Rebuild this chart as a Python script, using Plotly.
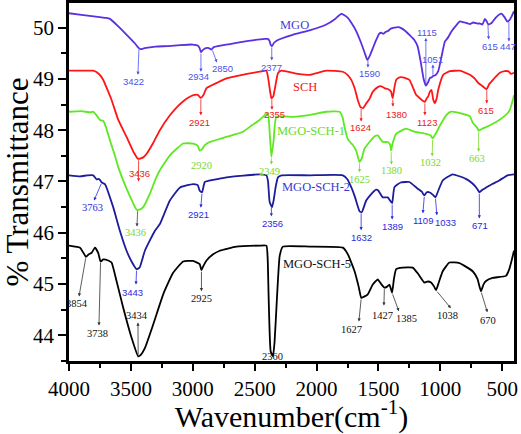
import numpy as np
import plotly.graph_objects as go

# ---------------- data ----------------
wn_mgo = [4000, 3900, 3800, 3700, 3669, 3600, 3534, 3470, 3440, 3422, 3390, 3300, 3200, 3100, 3000,
          2960, 2945, 2934, 2920, 2895, 2870, 2850, 2830, 2700, 2550, 2420, 2395, 2380, 2370, 2360,
          2345, 2320, 2193, 2050, 1922, 1850, 1801, 1775, 1747, 1700, 1680, 1640, 1610, 1590, 1570,
          1545, 1520, 1495, 1478, 1460, 1440, 1425, 1400, 1371, 1340, 1317, 1280, 1250, 1210, 1183,
          1160, 1135, 1117, 1100, 1084, 1070, 1057, 1040, 1017, 990, 963, 940, 909, 870, 842, 810,
          788, 760, 735, 700, 680, 660, 640, 625, 613, 600, 586, 550, 520, 505, 480, 460, 440, 424, 405]
t_mgo = [50.28, 50.25, 50.22, 50.19, 50.17, 50.02, 49.86, 49.70, 49.61, 49.58, 49.60, 49.63, 49.64, 49.66, 49.67,
         49.65, 49.60, 49.52, 49.56, 49.60, 49.60, 49.57, 49.62, 49.68, 49.74, 49.78, 49.78, 49.74, 49.66, 49.64,
         49.70, 49.75, 49.86, 49.95, 50.06, 50.17, 50.27, 50.24, 50.19, 50.02, 49.93, 49.70, 49.50, 49.37, 49.45,
         49.60, 49.75, 49.88, 49.90, 49.88, 49.92, 49.93, 49.98, 50.00, 50.01, 49.99, 49.93, 49.86, 49.76, 49.63,
         49.35, 49.00, 48.87, 48.93, 49.02, 49.03, 49.06, 49.07, 49.15, 49.44, 49.73, 49.80, 49.93, 50.05, 50.12, 50.10,
         50.09, 50.07, 50.10, 50.08, 50.08, 50.06, 50.17, 50.12, 50.06, 50.07, 50.09, 50.20, 50.26, 50.27, 50.20, 50.12, 50.15, 50.22, 50.32]

wn_sch = [4000, 3900, 3804, 3760, 3723, 3700, 3656, 3602, 3535, 3480, 3441, 3400, 3373, 3320, 3266, 3185,
          3120, 3064, 3000, 2960, 2935, 2915, 2889, 2800, 2728, 2600, 2460, 2405, 2390, 2375, 2365, 2350,
          2339, 2312, 2285, 2150, 2056, 1922, 1788, 1750, 1720, 1690, 1667, 1645, 1625, 1599, 1570, 1546,
          1506, 1480, 1452, 1420, 1398, 1385, 1370, 1357, 1330, 1304, 1250, 1196, 1165, 1140, 1125, 1110,
          1098, 1083, 1071, 1058, 1044, 1030, 1017, 977, 923, 842, 761, 720, 694, 660, 627, 605, 586, 550,
          519, 480, 452, 430, 405]
t_sch = [49.16, 49.16, 49.16, 49.10, 48.98, 48.85, 48.59, 48.20, 47.87, 47.58, 47.44, 47.47, 47.54, 47.75, 48.00, 48.29,
         48.47, 48.59, 48.68, 48.69, 48.63, 48.68, 48.82, 48.93, 49.01, 49.08, 49.14, 49.16, 49.00, 48.75, 48.62, 48.66,
         48.78, 49.11, 49.16, 49.10, 49.08, 49.16, 49.14, 49.08, 48.98, 48.80, 48.59, 48.45, 48.43, 48.52, 48.62, 48.75,
         48.84, 48.86, 48.82, 48.80, 48.75, 48.62, 48.85, 48.98, 49.03, 49.03, 48.98, 48.69, 48.62, 48.57, 48.55, 48.62,
         48.66, 48.76, 48.78, 48.60, 48.53, 48.62, 48.79, 49.08, 49.15, 49.16, 49.08, 49.00, 48.92, 48.86, 48.80, 48.90, 48.95, 49.05,
         49.12, 49.15, 49.15, 49.10, 49.12]

wn_s1 = [4000, 3900, 3830, 3804, 3777, 3750, 3723, 3700, 3669, 3635, 3602, 3535, 3490, 3454, 3430, 3401,
         3347, 3300, 3266, 3185, 3078, 2998, 2960, 2944, 2925, 2903, 2863, 2728, 2594, 2520, 2460, 2419,
         2393, 2380, 2365, 2347, 2325, 2190, 2050, 1922, 1814, 1790, 1774, 1747, 1707, 1680, 1653, 1635,
         1613, 1572, 1530, 1506, 1485, 1465, 1425, 1405, 1398, 1385, 1357, 1277, 1210, 1115, 1080, 1062,
         1040, 994, 950, 913, 833, 761, 739, 700, 691, 660, 631, 580, 524, 480, 457, 438, 411, 405]
t_s1 = [48.36, 48.37, 48.35, 48.36, 48.29, 48.20, 48.18, 48.05, 47.80, 47.55, 47.28, 46.86, 46.62, 46.45, 46.45, 46.50,
        46.76, 47.05, 47.22, 47.51, 47.74, 47.74, 47.70, 47.60, 47.63, 47.71, 47.77, 47.87, 47.97, 48.10, 48.20, 48.29,
        48.33, 48.00, 47.48, 47.80, 48.26, 48.26, 48.30, 48.36, 48.36, 48.25, 48.06, 47.82, 47.71, 47.60, 47.38, 47.45,
        47.64, 47.77, 47.88, 47.90, 47.83, 47.77, 47.77, 47.72, 47.60, 47.75, 47.93, 48.03, 47.97, 47.93, 47.90, 47.84,
        47.92, 48.13, 48.30, 48.36, 48.33, 48.27, 48.15, 48.04, 47.99, 48.03, 48.06, 48.12, 48.20, 48.28, 48.33, 48.40, 48.62, 48.68]

wn_s2 = [4000, 3911, 3850, 3804, 3777, 3760, 3750, 3735, 3710, 3643, 3589, 3535, 3490, 3454, 3430, 3387,
         3306, 3266, 3185, 3105, 2998, 2960, 2944, 2925, 2903, 2836, 2728, 2460, 2405, 2392, 2379, 2360,
         2347, 2330, 2312, 2283, 2056, 1788, 1750, 1720, 1690, 1653, 1635, 1599, 1560, 1519, 1500, 1465,
         1425, 1398, 1389, 1371, 1320, 1250, 1183, 1150, 1129, 1110, 1089, 1060, 1040, 1020, 981, 901,
         793, 740, 700, 685, 660, 631, 580, 524, 457, 405]
t_s2 = [47.12, 47.10, 47.12, 47.12, 47.04, 47.05, 47.03, 46.98, 46.95, 46.50, 46.04, 45.65, 45.42, 45.29, 45.32, 45.65,
        46.04, 46.17, 46.63, 46.88, 46.95, 46.93, 46.82, 46.79, 46.99, 47.03, 47.08, 47.14, 47.12, 47.00, 46.60, 46.50,
        46.63, 46.90, 47.08, 47.12, 47.12, 47.12, 47.04, 46.89, 46.70, 46.42, 46.40, 46.63, 46.75, 46.84, 46.82, 46.69,
        46.69, 46.60, 46.58, 46.89, 46.98, 46.99, 46.86, 46.80, 46.73, 46.79, 46.79, 46.74, 46.69, 46.80, 47.02, 47.14,
        47.05, 46.96, 46.85, 46.79, 46.84, 46.88, 46.95, 47.02, 47.12, 47.14]

wn_s5 = [4000, 3911, 3884, 3863, 3840, 3817, 3790, 3764, 3745, 3723, 3683, 3656, 3616, 3562, 3494, 3441,
         3420, 3387, 3320, 3239, 3159, 3078, 2998, 2944, 2930, 2915, 2889, 2836, 2782, 2648, 2460, 2405,
         2395, 2387, 2371, 2352, 2339, 2320, 2298, 2272, 2056, 1788, 1747, 1693, 1660, 1639, 1620, 1586,
         1546, 1506, 1478, 1452, 1430, 1411, 1390, 1375, 1357, 1304, 1223, 1180, 1129, 1100, 1075, 1050,
         1035, 1010, 981, 927, 846, 739, 700, 672, 650, 631, 578, 470, 443, 425, 405]
t_s5 = [45.75, 45.71, 45.61, 45.53, 45.58, 45.61, 45.71, 45.61, 45.44, 45.48, 45.46, 45.42, 45.06, 44.54, 43.95, 43.59,
        43.62, 43.75, 44.21, 44.80, 45.22, 45.44, 45.45, 45.39, 45.27, 45.35, 45.46, 45.58, 45.65, 45.73, 45.75, 45.75,
        45.50, 44.73, 43.69, 43.59, 43.88, 44.73, 45.55, 45.73, 45.73, 45.71, 45.58, 45.25, 44.95, 44.73, 44.75, 44.80,
        44.99, 45.09, 45.00, 44.93, 44.95, 44.99, 44.83, 45.10, 45.29, 45.32, 45.32, 45.20, 45.03, 45.05, 45.03, 44.95,
        44.88, 45.05, 45.25, 45.42, 45.41, 45.25, 45.10, 44.86, 45.00, 45.06, 45.12, 45.16, 45.29, 45.45, 45.65]

series_names = ["MGO", "SCH", "MGO-SCH-1", "MGO-SCH-2", "MGO-SCH-5"]

# peak labels: (text, label wavenumber, label T, arrow (tail wn on curve, head wn, head T) or None, serif?)
peaks_mgo = [("3422", 3475, 48.95, (3435, 3443, 49.08), False),
             ("2934", 2950, 49.05, (2934, 2934, 49.14), False),
             ("2850", 2756, 49.20, (2845, 2805, 49.32), False),
             ("2377", 2368, 49.22, (2362, 2362, 49.36), False),
             ("1590", 1569, 49.10, (1585, 1585, 49.22), False),
             ("1115", 1108, 49.90, (1117, 1117, 49.80), False),
             ("1051", 1060, 49.38, (1060, 1060, 49.28), False),
             ("615", 599, 49.63, (616, 610, 49.77), False),
             ("447", 454, 49.63, (446, 446, 49.73), False)]
peaks_sch = [("3436", 3427, 47.16, (3438, 3438, 47.00), False),
             ("2921", 2942, 48.15, (2935, 2935, 48.29), False),
             ("2355", 2336, 48.31, (2362, 2360, 48.40), False),
             ("1624", 1642, 48.05, (1640, 1640, 48.17), False),
             ("1380", 1351, 48.30, (1385, 1383, 48.46), False),
             ("1123", 1108, 48.15, (1125, 1125, 48.29), False),
             ("615", 632, 48.38, (625, 625, 48.52), False)]
peaks_s1 = [("2920", 2926, 47.31, None, True),
            ("3436", 3459, 46.01, (3445, 3451, 46.12), True),
            ("2349", 2377, 47.19, (2365, 2365, 47.33), True),
            ("1625", 1650, 47.04, (1653, 1653, 47.18), True),
            ("1380", 1391, 47.21, (1398, 1395, 47.33), True),
            ("1032", 1076, 47.37, (1062, 1066, 47.49), True),
            ("663", 705, 47.45, (691, 691, 47.58), True)]
peaks_s2 = [("3763", 3814, 46.49, (3735, 3798, 46.63), True),
            ("2921", 2950, 46.36, (2925, 2935, 46.49), False),
            ("3443", 3491, 44.84, (3454, 3459, 44.99), False),
            ("2356", 2360, 46.18, (2365, 2365, 46.32), False),
            ("1632", 1633, 45.91, (1640, 1640, 46.05), False),
            ("1389", 1383, 46.12, (1389, 1389, 46.26), False),
            ("1109", 1141, 46.24, (1129, 1141, 46.38), False),
            ("1033", 955, 46.20, (1040, 1028, 46.34), False),
            ("671", 680, 46.14, (685, 685, 46.28), False)]
peaks_s5 = [("3854", 3935, 44.62, (3863, 3919, 44.76), True),
            ("3738", 3766, 44.04, (3745, 3758, 44.19), True),
            ("3434", 3451, 44.39, (3441, 3443, 44.25), True),
            ("2925", 2926, 44.72, (2930, 2930, 44.86), True),
            ("2360", 2352, 43.58, None, True),
            ("1627", 1714, 44.12, (1639, 1658, 44.27), True),
            ("1427", 1464, 44.39, (1452, 1456, 44.58), True),
            ("1385", 1270, 44.33, (1390, 1335, 44.47), True),
            ("1038", 939, 44.39, (1035, 915, 44.53), True),
            ("670", 616, 44.29, (672, 620, 44.45), True)]

name_pos = [(2175, 50.06), (2094, 48.85), (2045, 47.99), (2005, 46.90), (1997, 45.40)]

line_colors = ["#5a30e0", "#ff1515", "#5ee820", "#1c1c9c", "#000000"]
label_colors = ["#5050ee", "#ee2020", "#7ad82a", "#2a2ae0", "#111111"]
name_colors = ["#4a3ad8", "#ee2020", "#66dd22", "#3a3ad0", "#111111"]
arrow_colors = ["#5050ee", "#ee2020", "#7ad82a", "#2a2ae0", "#333333"]

SERIF = "Liberation Serif, Times New Roman, serif"
SANS = "Liberation Sans, Arial, sans-serif"

all_wn = [wn_mgo, wn_sch, wn_s1, wn_s2, wn_s5]
all_t = [t_mgo, t_sch, t_s1, t_s2, t_s5]
all_peaks = [peaks_mgo, peaks_sch, peaks_s1, peaks_s2, peaks_s5]

fig = go.Figure()
annotations = []
for i, name in enumerate(series_names):
    wn, t = all_wn[i], all_t[i]
    fig.add_trace(go.Scatter(x=wn, y=t, mode="lines", name=name, showlegend=False,
                             line=dict(color=line_colors[i], width=1.8, shape="spline", smoothing=0.4)))
    annotations.append(dict(x=name_pos[i][0], y=name_pos[i][1], xref="x", yref="y", text=name,
                            showarrow=False, font=dict(family=SERIF, size=12.5, color=name_colors[i])))
    wn_inc = np.array(wn[::-1], dtype=float)
    t_inc = np.array(t[::-1], dtype=float)
    for (txt, lx, ly, arrow, serif) in all_peaks[i]:
        col = label_colors[i]
        if i == 2 and txt == "3436":
            acol = "#444444"
        else:
            acol = arrow_colors[i]
        annotations.append(dict(x=lx, y=ly, xref="x", yref="y", text=txt, showarrow=False,
                                font=dict(family=SERIF if serif else SANS,
                                          size=10.5 if serif else 9.5, color=col)))
        if arrow is not None:
            tail_wn, head_wn, head_t = arrow
            tail_t = float(np.interp(tail_wn, wn_inc, t_inc))
            annotations.append(dict(x=head_wn, y=head_t, ax=tail_wn, ay=tail_t, xref="x", yref="y",
                                    axref="x", ayref="y", text="", showarrow=True, arrowhead=2,
                                    arrowsize=0.8, arrowwidth=0.8, arrowcolor=acol,
                                    standoff=0, startstandoff=0))

fig.update_layout(
    width=521, height=434,
    margin=dict(l=69, r=7, t=3, b=73, autoexpand=False),
    paper_bgcolor="white", plot_bgcolor="white",
    annotations=annotations,
    font=dict(family=SERIF, color="black"),
)
fig.update_xaxes(range=[4000, 405], dtick=500, tick0=0, showgrid=False, zeroline=False, automargin=False,
                 showline=True, mirror=True, linecolor="black", linewidth=2.5,
                 ticks="outside", ticklen=7, tickwidth=2, tickcolor="black",
                 minor=dict(dtick=250, tick0=0, ticks="outside", ticklen=4, tickwidth=2, tickcolor="black"),
                 tickfont=dict(family=SERIF, size=21, color="black"),
                 title=dict(text="Wavenumber(cm<sup>-1</sup>)", font=dict(family=SERIF, size=30, color="black"),
                            standoff=2))
fig.update_yaxes(range=[43.5, 50.48], dtick=1, tick0=0, showgrid=False, zeroline=False, automargin=False,
                 showline=True, mirror=True, linecolor="black", linewidth=2.5,
                 ticks="outside", ticklen=8, tickwidth=2, tickcolor="black",
                 minor=dict(dtick=0.5, tick0=0, ticks="outside", ticklen=5, tickwidth=2, tickcolor="black"),
                 tickfont=dict(family=SERIF, size=21, color="black"),
                 title=dict(text="% Transmittance", font=dict(family=SERIF, size=31, color="black"),
                            standoff=4))

fig.write_html("out.html", config={"displayModeBar": False},
               post_script="document.body.style.margin='0';document.body.style.padding='0';")
